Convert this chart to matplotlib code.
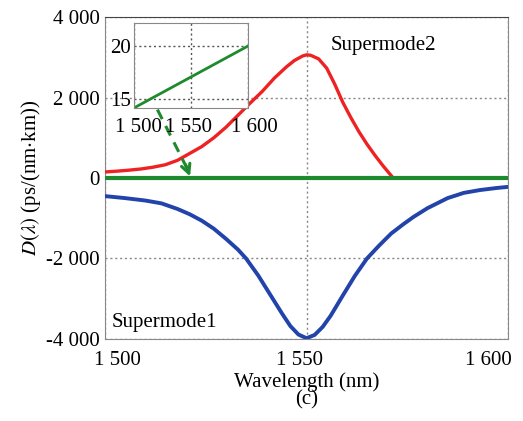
import numpy as np
import matplotlib
matplotlib.use("Agg")
import matplotlib.pyplot as plt
import matplotlib.transforms as mtrans
from matplotlib.ticker import FuncFormatter

plt.rcParams['font.family'] = ['Liberation Serif', 'DejaVu Serif']
plt.rcParams['mathtext.fontset'] = 'stix'

# ---- data ----
wl_red = [1500, 1503, 1506, 1509, 1512, 1515, 1518, 1521, 1524, 1527, 1530, 1533, 1536, 1539,
          1542, 1545, 1547, 1549, 1550, 1551, 1553, 1555, 1557, 1559, 1561, 1563, 1565, 1567,
          1569, 1571.5]
d_red = [150, 170, 195, 225, 270, 330, 440, 610, 780, 1000, 1260, 1560, 1860, 2150,
         2480, 2760, 2920, 3030, 3060, 3050, 2960, 2730, 2330, 1880, 1500, 1150, 840, 560,
         300, 0]

wl_blue = [1500, 1505, 1510, 1514, 1518, 1521, 1524, 1527, 1530, 1533, 1535, 1538, 1541, 1544,
           1546, 1548, 1550, 1552, 1554, 1556, 1559, 1562, 1565, 1568, 1571, 1574, 1576.5,
           1580, 1585, 1589, 1593, 1597, 1600]
d_blue = [-450, -500, -560, -630, -770, -900, -1060, -1260, -1510, -1780, -2000, -2420, -2900, -3380,
          -3680, -3890, -3980, -3900, -3700, -3420, -2920, -2430, -2000, -1680, -1380, -1150, -970,
          -750, -500, -370, -300, -250, -220]

wl_green = [1500, 1600]
d_green = [0, 0]

# inset: zoom on the green curve
wl_inset = [1500, 1550, 1600]
d_inset = [14.1, 17.05, 20.0]

yticks = [-4000, -2000, 0, 2000, 4000]
xticks = [1500, 1550, 1600]
inset_yticks = [15, 20]


def spaced(v, pos=None):
    s = f"{abs(int(v)):,}".replace(",", " ")
    return ("-" if v < 0 else "") + s


def shift_labels(axis_obj, fig, dxs):
    # nudge each tick label sideways (points)
    for lab, dx in zip(axis_obj.get_ticklabels(), dxs):
        lab.set_transform(lab.get_transform() +
                          mtrans.ScaledTranslation(dx / 72, 0, fig.dpi_scale_trans))


green = '#1e8a2e'

fig = plt.figure(figsize=(5.23, 4.21), dpi=100)
ax = fig.add_axes([0.2008, 0.1948, 0.7706, 0.7648])

ax.plot(wl_red, d_red, color='#ee2222', lw=2.4, zorder=3, solid_capstyle='butt')
ax.plot(wl_blue, d_blue, color='#2244aa', lw=2.8, zorder=3)
ax.plot(wl_green, d_green, color=green, lw=3.0, zorder=4)

ax.set_xlim(1500, 1600)
ax.set_ylim(-4000, 4000)
ax.set_xticks(xticks)
ax.set_yticks(yticks)
ax.xaxis.set_major_formatter(FuncFormatter(spaced))
ax.yaxis.set_major_formatter(FuncFormatter(spaced))
ax.tick_params(length=0, labelsize=15)
ax.tick_params(axis='y', pad=4)
ax.tick_params(axis='x', pad=9)
shift_labels(ax.xaxis, fig, [9, -5, -14])
ax.grid(True, color='#888888', linestyle=(0, (1.5, 2)), lw=1.0)
for side, sp in ax.spines.items():
    sp.set_color('#888888')
ax.spines['top'].set_color('#444444')

ax.set_xlabel('Wavelength (nm)\n(c)', fontsize=15, linespacing=0.9, labelpad=1)
ax.set_ylabel(r'$D(\lambda)$ (ps/(nm$\cdot$km))', fontsize=15, labelpad=2)

ax.text(1556, 3300, 'Supermode2', fontsize=15, va='center')
ax.text(1501.7, -3580, 'Supermode1', fontsize=15, va='center')

# dashed arrow from inset down to the green line
ax.plot([1513, 1520.3], [1700, 250], color=green, lw=2.2, linestyle=(0, (3.5, 2.5)), zorder=5)
ax.annotate('', xy=(1521.1, 40), xytext=(1520.0, 330),
            arrowprops=dict(arrowstyle='->', color=green, lw=2.2,
                            mutation_scale=16, shrinkA=0, shrinkB=0), zorder=5)

ins = fig.add_axes([0.256, 0.7435, 0.218, 0.2019])
ins.plot(wl_inset, d_inset, color=green, lw=2)
ins.set_xlim(1500, 1600)
ins.set_ylim(14.1, 22.2)
ins.set_xticks(xticks)
ins.set_yticks(inset_yticks)
ins.xaxis.set_major_formatter(FuncFormatter(spaced))
ins.tick_params(length=0, labelsize=15)
ins.tick_params(axis='x', pad=7)
ins.tick_params(axis='y', pad=2)
shift_labels(ins.xaxis, fig, [3, -2, 5])
ins.grid(True, color='#555555', linestyle=(0, (1.5, 2)), lw=1.0)
for sp in ins.spines.values():
    sp.set_color('#888888')

fig.savefig('out.png', dpi=100)
